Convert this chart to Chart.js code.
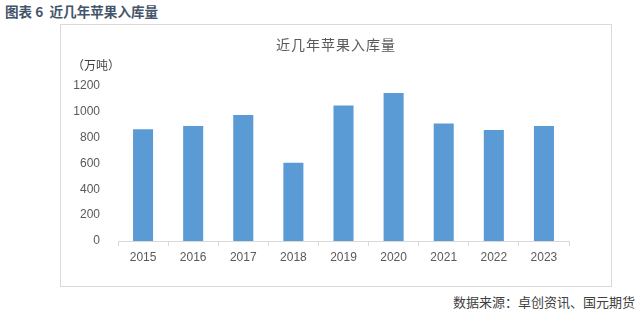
<!DOCTYPE html>
<html>
<head>
<meta charset="utf-8">
<script src="https://cdn.jsdelivr.net/npm/chart.js@4"></script>
<style>
  body { margin: 0; width: 639px; height: 313px; background: #fff; position: relative; overflow: hidden; font-family: "Noto Sans CJK SC", sans-serif; }
  #header { position: absolute; left: 5px; top: 2px; font-size: 13.6px; font-weight: bold; color: #44546a; line-height: 18px; }
  #box { position: absolute; left: 60px; top: 24px; width: 552px; height: 263px; box-sizing: border-box; border: 1px solid #d9d9d9; }
  #title { position: absolute; left: 0; right: 0; top: 9px; text-align: center; font-size: 14px; color: #595959; letter-spacing: 1px; }
  #unit { position: absolute; left: 11px; top: 31px; font-size: 12px; color: #404040; }
  #source { position: absolute; right: 4px; top: 293px; font-size: 13px; color: #404040; line-height: 18px; }
  canvas { position: absolute; left: 0; top: 0; }
</style>
</head>
<body>
<div id="header">图表 6&nbsp; 近几年苹果入库量</div>
<div id="box">
  <canvas id="chart" width="550" height="261"></canvas>
  <div id="title">近几年苹果入库量</div>
  <div id="unit">（万吨）</div>
</div>
<div id="source">数据来源：卓创资讯、国元期货</div>
<script>
// 入库量（万吨）
const years = ["2015", "2016", "2017", "2018", "2019", "2020", "2021", "2022", "2023"]
const storage = [865, 890, 975, 605, 1050, 1145, 910, 860, 890]
const yTicks = [0, 200, 400, 600, 800, 1000, 1200]

const tickFont = { family: "'Liberation Sans', Arial, sans-serif", size: 12 }

new Chart(document.getElementById("chart"), {
  type: "bar",
  data: {
    labels: years,
    datasets: [
      {
        data: storage,
        backgroundColor: "#5b9bd5",
        categoryPercentage: 1,
        barPercentage: 0.4,
      },
    ],
  },
  options: {
    responsive: false,
    animation: false,
    layout: { padding: { top: 61, right: 42, bottom: 0, left: 0 } },
    plugins: { legend: { display: false }, tooltip: { enabled: false } },
    scales: {
      x: {
        offset: true,
        grid: { offset: true, drawOnChartArea: false, drawTicks: true, tickLength: 5, color: "#d9d9d9" },
        border: { color: "#d9d9d9" },
        ticks: { color: "#595959", font: tickFont, padding: 4, maxRotation: 0 },
        afterFit: (scale) => { scale.height = 45 },
      },
      y: {
        min: 0,
        max: 1200,
        afterBuildTicks: (scale) => { scale.ticks = yTicks.map((v) => ({ value: v })) },
        grid: { display: false },
        border: { display: false },
        ticks: { color: "#595959", font: tickFont, padding: 10, callback: (v) => String(v) },
        afterFit: (scale) => { scale.width = 57 },
      },
    },
  },
})
</script>
</body>
</html>
